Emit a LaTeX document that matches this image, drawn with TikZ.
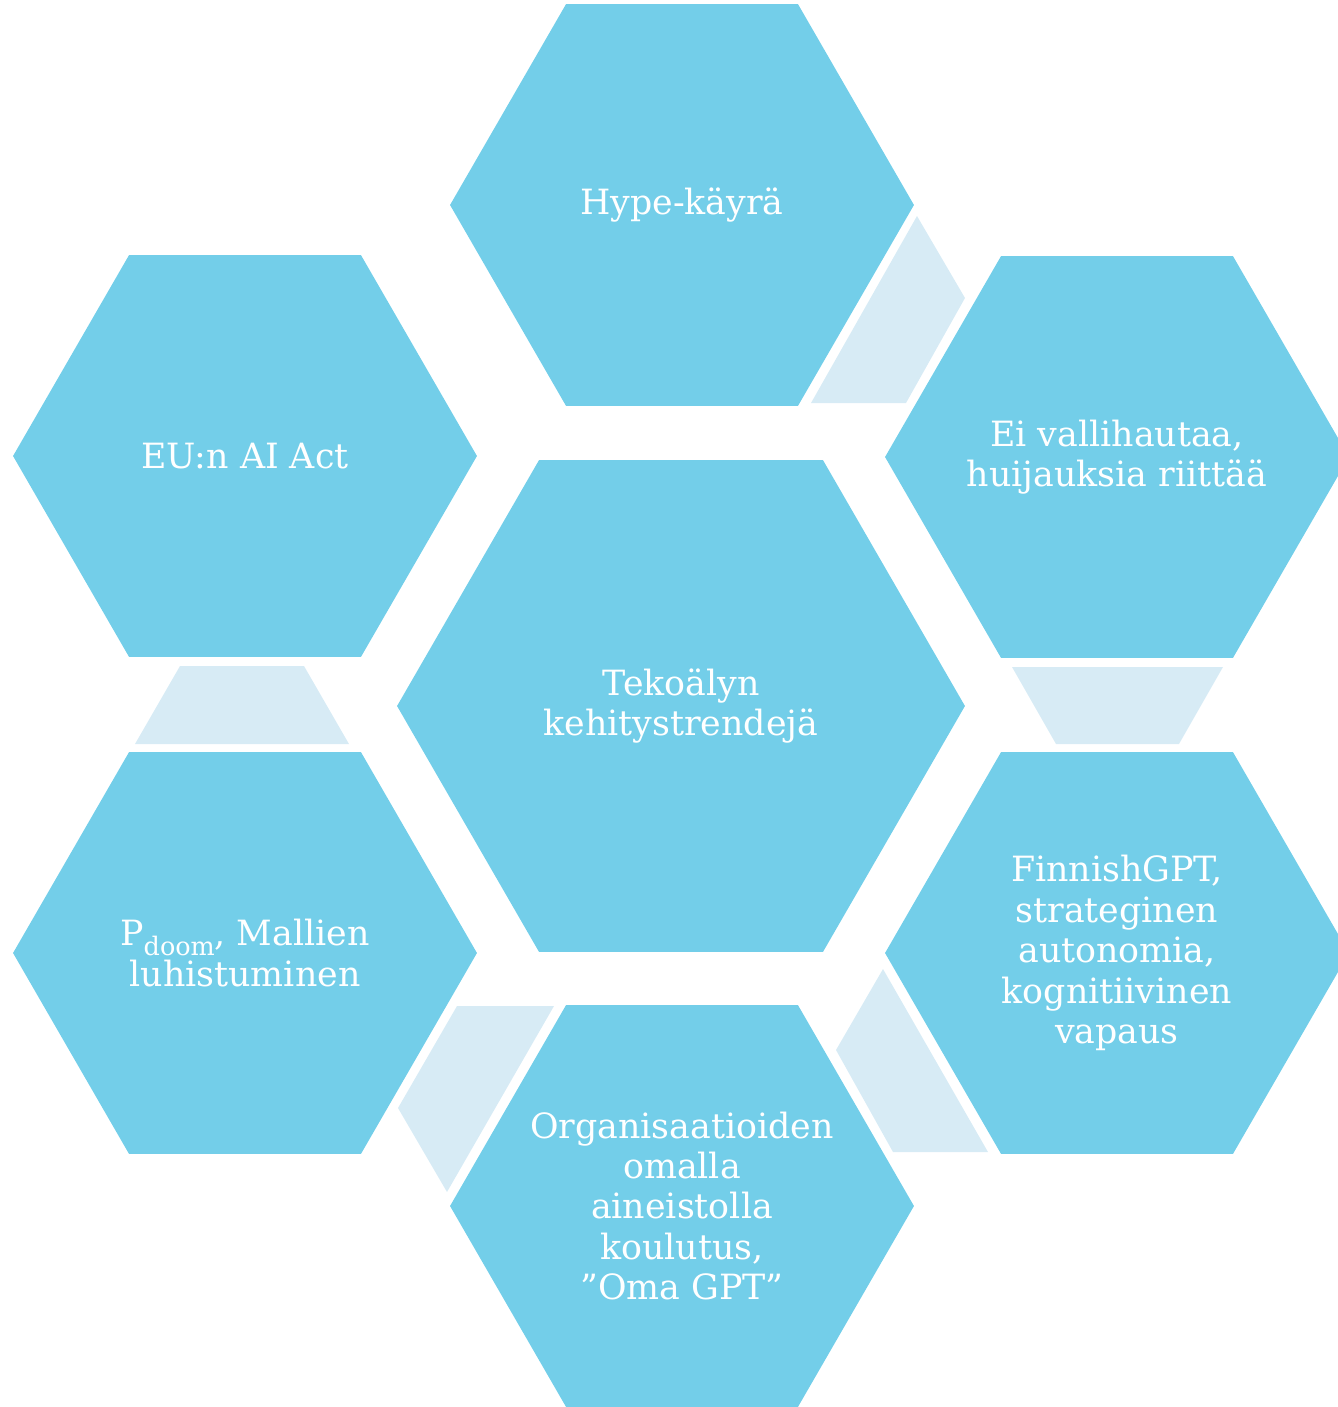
\documentclass[tikz,border=0pt]{standalone}
\usepackage{fontspec}
\setmainfont{DejaVu Serif}
\usetikzlibrary{shapes.geometric}
\definecolor{hexblue}{RGB}{115,206,233}
\definecolor{linkblue}{RGB}{215,235,245}
\newcommand{\subdoom}{\raisebox{-5.5pt}{\fontsize{14.5}{14.5}\selectfont doom}}

\begin{document}
\begin{tikzpicture}[x=0.02cm, y=-0.02cm, main node/.style={regular polygon, regular polygon sides=6, fill=hexblue, inner sep=0pt, minimum size=9.28cm}, hex text/.style={text=white, align=center}, link/.style={fill=linkblue}]
        \tikzstyle{every node}=[font=\fontsize{19.8}{23}\selectfont]
        \useasboundingbox (0,0) rectangle (1338,1407);

          \node[main node, minimum size=11.36cm] (0) at (681,706) {};
          \node[main node] (1) at (682,205) {};
          \node[main node] (2) at (1117,457) {};
          \node[main node] (3) at (1117,953) {};
          \node[main node] (4) at (682,1206) {};
          \node[main node] (5) at (245,953) {};
          \node[main node] (6) at (245,456) {};

          \node[hex text] (t0) at (0) {Tekoälyn\\kehitystrendejä};
          \node[hex text] (t1) at (1) {Hype-käyrä};
          \node[hex text] (t2) at (2) {Ei vallihautaa,\\huijauksia riittää};
          \node[hex text] (t3) at (3) {FinnishGPT,\\strateginen\\autonomia,\\kognitiivinen\\vapaus};
          \node[hex text] (t4) at (4) {Organisaatioiden\\omalla\\aineistolla\\koulutus,\\”Oma GPT”};
          \node[hex text] (t5) at (5) {P\subdoom, Mallien\\luhistuminen};
          \node[hex text] (t6) at (6) {EU:n AI Act};

          % light links between the outer hexagons
          \fill[link] (917,216) -- (965,298) -- (906,403) -- (811,403) -- cycle;
          \fill[link] (1012,667) -- (1223,667) -- (1179,744) -- (1056,744) -- cycle;
          \fill[link] (883,969) -- (988,1152) -- (893,1152) -- (836,1050) -- cycle;
          \fill[link] (457,1006) -- (554,1006) -- (447,1192) -- (398,1108) -- cycle;
          \fill[link] (180,666) -- (304,666) -- (349,744) -- (135,744) -- cycle;

        \end{tikzpicture}
\end{document}
